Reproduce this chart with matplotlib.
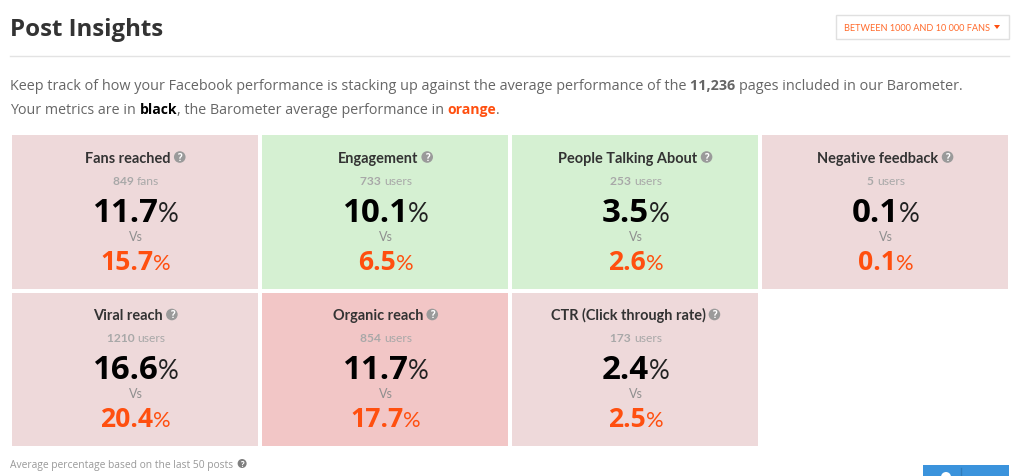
import matplotlib
matplotlib.use("Agg")
import matplotlib.pyplot as plt
from matplotlib.patches import Rectangle, Circle, Polygon, Ellipse

# card values, left to right, top to bottom
card_titles = ["Fans reached", "Engagement", "People Talking About", "Negative feedback",
               "Viral reach", "Organic reach", "CTR (Click through rate)"]
card_counts = ["849", "733", "253", "5", "1210", "854", "173"]
card_units = ["fans", "users", "users", "users", "users", "users", "users"]
your_values = ["11.7", "10.1", "3.5", "0.1", "16.6", "11.7", "2.4"]
barometer_values = ["15.7", "6.5", "2.6", "0.1", "20.4", "17.7", "2.5"]
card_colors = ["#eed9da", "#d5f0d2", "#d5f0d2", "#eed9da", "#eed9da", "#f2c6c6", "#eed9da"]

ORANGE = "#ff4f0f"
GREY = "#666666"
FONT = "Open Sans"
CARD_FONT = "Lato"

fig = plt.figure(figsize=(10.24, 4.77), dpi=100)
ax = fig.add_axes([0, 0, 1, 1])
ax.set_xlim(0, 1024)
ax.set_ylim(477, 0)
ax.axis("off")


def px(size):
    return size * 0.72


def text_width(text, size, weight, family):
    # the x on both sides keeps spaces in the measured width
    renderer = fig.canvas.get_renderer()
    a = ax.text(0, 0, "x" + text + "x", fontsize=px(size), fontweight=weight, family=family)
    b = ax.text(0, 0, "xx", fontsize=px(size), fontweight=weight, family=family)
    width = a.get_window_extent(renderer).width - b.get_window_extent(renderer).width
    a.remove()
    b.remove()
    return width


def draw_runs(x, y, runs, center=False):
    # runs is a list of (text, size_px, color, weight, family)
    widths = [text_width(r[0], r[1], r[3], r[4]) for r in runs]
    start = x - sum(widths) / 2 if center else x
    for (text, size, color, weight, family), width in zip(runs, widths):
        ax.text(start, y, text, fontsize=px(size), color=color, fontweight=weight,
                family=family, va="baseline", ha="left")
        start += width
    return start


def help_icon(x, y, r=5.8, color="#9a9a9a"):
    ax.add_patch(Ellipse((x, y), 2 * r, 2 * r, facecolor=color, edgecolor="none"))
    ax.text(x, y + 0.3, "?", fontsize=px(r * 1.7), color="white", fontweight="bold",
            family=FONT, ha="center", va="center")


# header
ax.text(10, 36, "Post Insights", fontsize=px(24), color="#333333", fontweight="bold",
        family=FONT, va="baseline")
ax.plot([10, 1009], [56.5, 56.5], color="#e3e3e3", lw=1)

# dropdown button
ax.add_patch(Rectangle((836, 16.5), 173, 24, facecolor="#d8d8d8", edgecolor="none"))
ax.add_patch(Rectangle((835.5, 15.5), 173, 24, facecolor="white", edgecolor="#e0e0e0", lw=1))
ax.text(844, 31, "BETWEEN 1000 AND 10 000 FANS", fontsize=px(9.2), color="#ff6a2b",
        family=CARD_FONT, va="baseline")
ax.add_patch(Polygon([[994, 26], [1000, 26], [997, 30]], facecolor=ORANGE, edgecolor="none"))

# intro text
draw_runs(10, 90, [("Keep track of how your Facebook performance is stacking up against the average performance of the ",
                    14.43, GREY, "normal", FONT),
                   ("11,236 ", 14.43, GREY, "bold", FONT),
                   ("pages included in our Barometer.", 14.43, GREY, "normal", FONT)])
draw_runs(10, 114, [("Your metrics are in ", 14.3, GREY, "normal", FONT),
                    ("black", 14, "black", "bold", FONT),
                    (", the Barometer average performance in ", 14.3, GREY, "normal", FONT),
                    ("orange", 14, ORANGE, "bold", FONT),
                    (".", 14.3, GREY, "normal", FONT)])

# metric cards
x0, y0 = 12, 136
w, h = 246, 153.5
gap_x, gap_y = 4, 4
for i, title in enumerate(card_titles):
    col, row = i % 4, i // 4
    left = x0 + col * (w + gap_x)
    top = y0 + row * (h + gap_y)
    mid = left + w / 2
    ax.add_patch(Rectangle((left, top), w, h, facecolor=card_colors[i], edgecolor="none"))

    end = draw_runs(mid - 7, top + 27, [(title, 14.5, "#333333", "bold", CARD_FONT)], center=True)
    help_icon(end + 9, top + 22)

    draw_runs(mid + 1, top + 49, [(card_counts[i] + " ", 12, "#a8a8a8", "bold", CARD_FONT),
                                  (card_units[i], 12, "#a8a8a8", "normal", CARD_FONT)], center=True)
    draw_runs(mid + 0.5, top + 86, [(your_values[i], 33, "black", "bold", FONT),
                                    ("%", 26, "#222222", "normal", CARD_FONT)], center=True)
    ax.text(mid + 1, top + 105, "Vs", fontsize=px(12.5), color="#8f8f8f",
            family=CARD_FONT, ha="center", va="baseline")
    draw_runs(mid + 0.5, top + 134, [(barometer_values[i], 26.5, ORANGE, "bold", FONT),
                                     ("%", 22, ORANGE, "normal", CARD_FONT)], center=True)

# footer
end = draw_runs(10, 468, [("Average percentage based on the last 50 posts", 10.3, "#999999", "normal", FONT)])
help_icon(end + 9, 464.5, r=4.5, color="#7f7f7f")

# share button, cut off by the bottom edge
ax.add_patch(Rectangle((923, 466), 86, 11, facecolor="#3b93dc", edgecolor="none"))
ax.plot([960.5, 960.5], [469, 477], color="#2f7cbc", lw=1)
ax.add_patch(Circle((946, 478), 5, facecolor="white", edgecolor="none"))

fig.savefig("out.png", dpi=100)
